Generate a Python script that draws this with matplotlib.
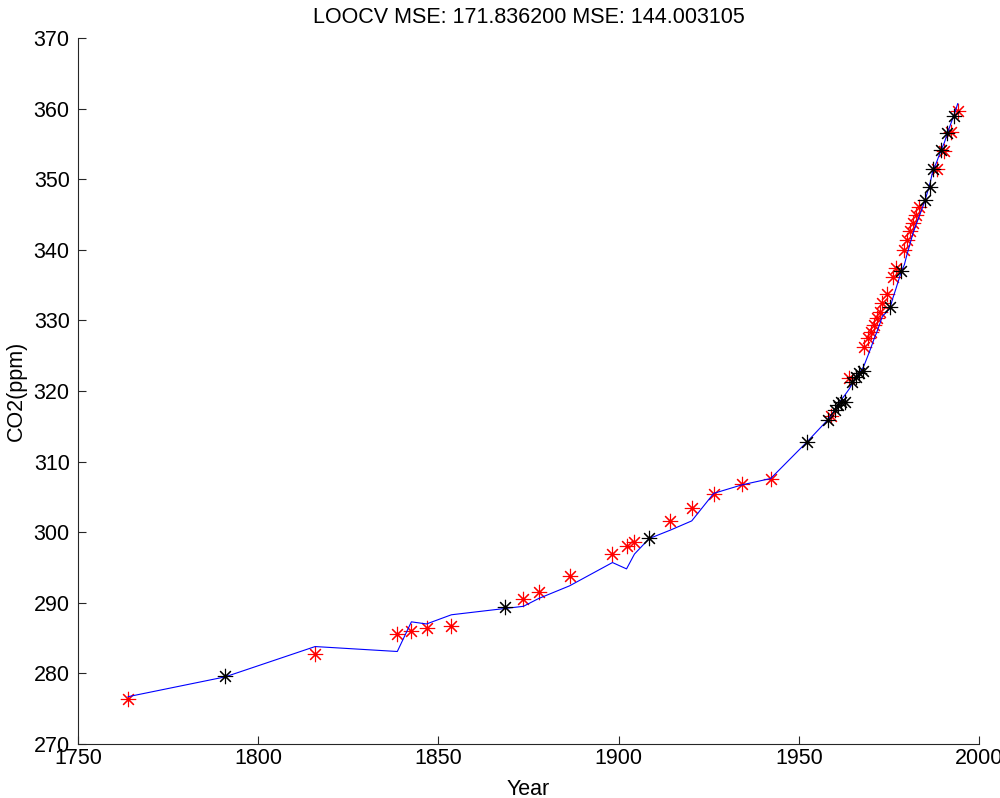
import matplotlib
matplotlib.use("Agg")
import matplotlib.pyplot as plt

plt.rcParams['font.family'] = ['Liberation Sans', 'DejaVu Sans']

title_text = "LOOCV MSE: 171.836200 MSE: 144.003105"
xlabel_text = "Year"
ylabel_text = "CO2(ppm)"

x_ticks = [1750, 1800, 1850, 1900, 1950, 2000]
y_ticks = [270, 280, 290, 300, 310, 320, 330, 340, 350, 360, 370]

# red star points
red_years = [1763.9, 1815.8, 1838.6, 1842.5, 1846.7, 1853.6, 1873.6, 1877.8,
             1886.4, 1898.3, 1902.2, 1904.4, 1914.4, 1920.3, 1926.4, 1934.2,
             1942.2, 1958.9, 1964.0, 1968.1, 1969.1, 1970.0, 1970.9, 1971.7,
             1972.6, 1973.2, 1974.4, 1976.0, 1976.9, 1979.3, 1980.0, 1980.9,
             1981.6, 1982.5, 1983.4, 1988.3, 1990.4, 1992.2, 1994.1]
red_co2 = [276.4, 282.7, 285.6, 286.0, 286.4, 286.7, 290.5, 291.5,
           293.8, 296.9, 298.0, 298.6, 301.6, 303.4, 305.4, 306.8,
           307.5, 316.4, 321.8, 326.3, 327.5, 328.4, 329.3, 330.3,
           331.2, 332.4, 333.8, 336.2, 337.4, 340.0, 341.4, 342.6,
           343.8, 344.9, 346.1, 351.5, 354.0, 356.7, 359.6]

# black star points
black_years = [1790.8, 1868.6, 1908.5, 1952.3, 1958.2, 1960.1, 1960.8, 1961.7,
               1962.9, 1964.9, 1965.8, 1966.8, 1967.7, 1975.4, 1978.3, 1985.1,
               1986.5, 1987.1, 1989.4, 1991.1, 1993.0]
black_co2 = [279.6, 289.4, 299.2, 312.8, 315.9, 317.3, 318.0, 318.5,
             318.5, 321.3, 322.0, 322.5, 322.8, 331.9, 337.0, 347.1,
             348.9, 351.4, 354.1, 356.5, 359.0]

# blue prediction line
line_years = [1763.9, 1790.8, 1815.8, 1838.6, 1842.5, 1846.7, 1853.6, 1868.6,
              1873.6, 1877.8, 1886.4, 1898.3, 1902.2, 1904.4, 1908.5, 1914.4,
              1920.3, 1926.4, 1934.2, 1942.2, 1952.3, 1958.2, 1958.9, 1960.1,
              1960.8, 1961.7, 1962.9, 1964.0, 1964.9, 1965.8, 1966.8, 1967.7,
              1968.1, 1969.1, 1970.0, 1970.9, 1971.7, 1972.6, 1973.2, 1974.4,
              1975.4, 1976.0, 1976.9, 1978.3, 1979.3, 1980.0, 1980.9, 1981.6,
              1982.5, 1983.4, 1985.1, 1986.5, 1987.1, 1988.3, 1989.4, 1990.4,
              1991.1, 1992.2, 1993.0, 1994.1]
line_co2 = [276.7, 279.5, 283.8, 283.1, 287.3, 287.0, 288.3, 289.2,
            289.5, 290.6, 292.4, 295.7, 294.8, 296.9, 299.1, 300.3,
            301.6, 305.5, 306.7, 307.6, 312.8, 316.0, 316.5, 317.4,
            318.0, 318.7, 319.5, 320.3, 321.1, 321.9, 322.6, 323.2,
            323.6, 324.9, 326.1, 327.4, 328.4, 329.7, 330.6, 331.2,
            331.9, 333.0, 334.4, 336.7, 337.9, 339.3, 340.9, 342.2,
            343.5, 344.7, 347.1, 349.6, 351.0, 352.5, 354.0, 355.2,
            356.3, 357.9, 359.0, 360.7]

fig = plt.figure(figsize=(10.0, 7.98), dpi=100)
ax = fig.add_axes([0.078, 0.0677, 0.901, 0.8847])

star = (8, 2, 0)
ax.plot(red_years, red_co2, linestyle='none', marker=star, color='red',
        markersize=11, markeredgewidth=0.8, zorder=2)
ax.plot(line_years, line_co2, color='blue', linewidth=0.8, zorder=3)
ax.plot(black_years, black_co2, linestyle='none', marker=star, color='black',
        markersize=11, markeredgewidth=0.8, zorder=4)

ax.set_xlim(1750, 2000)
ax.set_ylim(270, 370)
ax.set_xticks(x_ticks)
ax.set_yticks(y_ticks)
ax.spines['top'].set_visible(False)
ax.spines['right'].set_visible(False)
for s in ('left', 'bottom'):
    ax.spines[s].set_color('#262626')
    ax.spines[s].set_linewidth(0.8)
ax.tick_params(axis='both', direction='in', length=6, width=0.8,
               colors='#262626', labelcolor='black', labelsize=15.5)
ax.tick_params(axis='x', pad=3)
ax.tick_params(axis='y', pad=6)

ax.set_title(title_text, fontsize=15.5, pad=11)
ax.set_xlabel(xlabel_text, fontsize=15.5, labelpad=7)
ax.set_ylabel(ylabel_text, fontsize=15.5, labelpad=5)

fig.savefig("out.png", dpi=100)
